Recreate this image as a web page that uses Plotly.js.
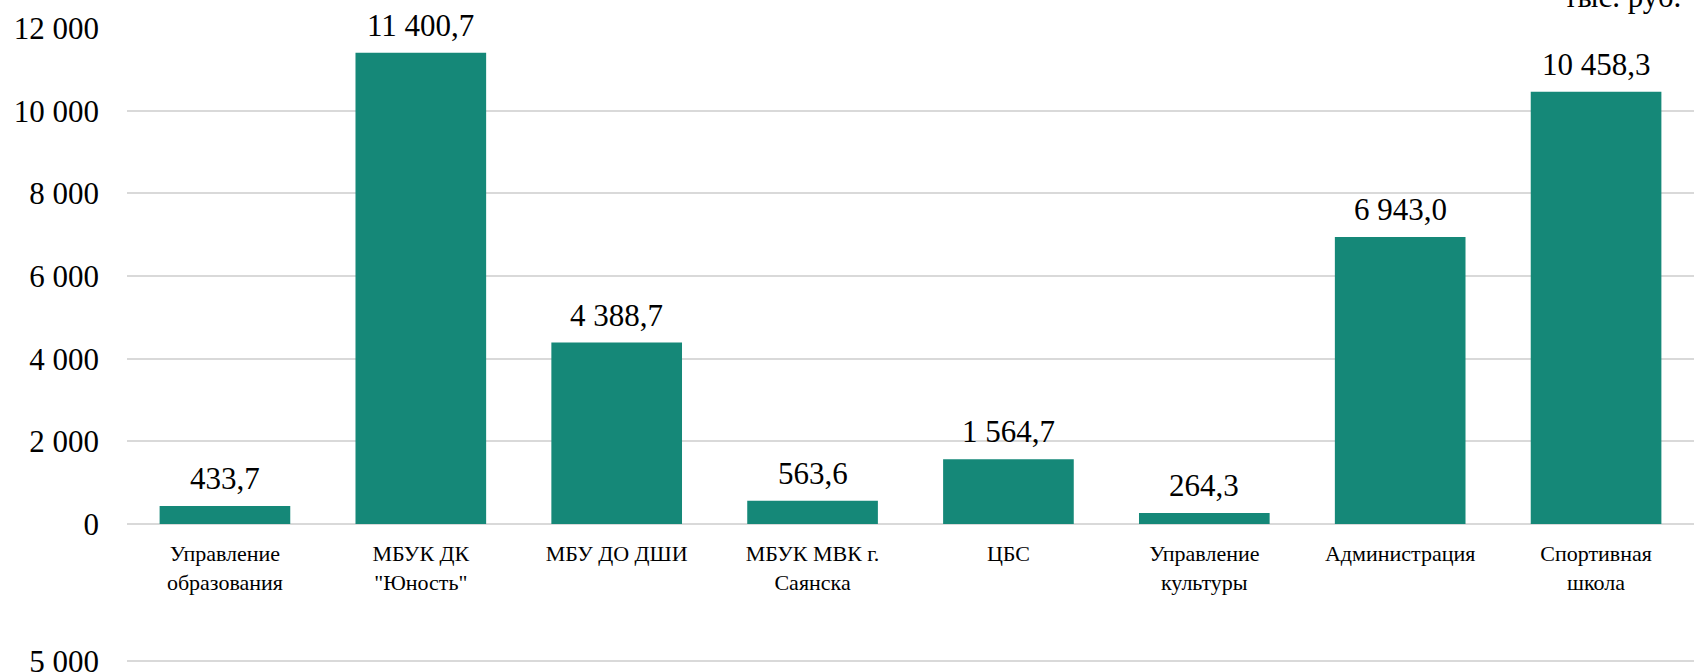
<!DOCTYPE html>
<html>
<head>
<meta charset="utf-8">
<script src="https://cdn.plot.ly/plotly-3.0.1.min.js"></script>
<style>
  html, body { margin: 0; padding: 0; background: #ffffff; }
  #chart { width: 1694px; height: 672px; }
</style>
</head>
<body>
<div id="chart"></div>
<script>
// categories and values (тыс. руб.)
const categories = [
  "Управление<br>образования",
  "МБУК ДК<br>\"Юность\"",
  "МБУ ДО ДШИ",
  "МБУК МВК г.<br>Саянска",
  "ЦБС",
  "Управление<br>культуры",
  "Администрация",
  "Спортивная<br>школа"
];
const values = [433.7, 11400.7, 4388.7, 563.6, 1564.7, 264.3, 6943.0, 10458.3];
const yTicks = [0, 2000, 4000, 6000, 8000, 10000, 12000];
const unitLabel = "тыс. руб.";
// only the top gridline of the next chart shows at the bottom of the picture
const nextChartTicks = [5000];

const SERIF = "'Liberation Serif', serif";
const BAR_COLOR = "#158878";
const GRID = "#d9d9d9";

// 11400.7 -> "11 400,7"
function fmt(v) {
  let parts = v.toFixed(1).split(".");
  let whole = parts[0].replace(/\B(?=(\d{3})+(?!\d))/g, " ");
  return whole + "," + parts[1];
}

let bars = {
  type: "bar",
  x: categories,
  y: values,
  marker: {color: BAR_COLOR},
  hoverinfo: "skip",
  showlegend: false
};

// invisible trace so the second (cut off) chart gets its own axes
let nextChart = {
  type: "scatter",
  mode: "none",
  x: [0.5],
  y: nextChartTicks,
  xaxis: "x2",
  yaxis: "y2",
  hoverinfo: "skip",
  showlegend: false
};

let annotations = [];
for (let i = 0; i < categories.length; i++) {
  annotations.push({
    x: categories[i],
    y: values[i],
    xref: "x",
    yref: "y",
    text: fmt(values[i]),
    showarrow: false,
    yanchor: "bottom",
    yshift: 8,
    font: {family: SERIF, size: 31, color: "#000000"}
  });
}
annotations.push({
  x: 0.9158,
  y: 1.018,
  xref: "paper",
  yref: "paper",
  xanchor: "left",
  yanchor: "bottom",
  text: unitLabel,
  showarrow: false,
  font: {family: SERIF, size: 31, color: "#000000"}
});

const H = 672, T = 28;
const plotH = H - T;
const mainBottom = (H - 524) / plotH;
// second chart: 5000 gridline sits at y = 660.7 px
const nextDomTop = 0.05;
const nextFrac = (H - 660.7) / (plotH * nextDomTop);

let layout = {
  width: 1694,
  height: 672,
  margin: {l: 127, r: 0, t: T, b: 0},
  paper_bgcolor: "#ffffff",
  plot_bgcolor: "#ffffff",
  separators: ", ",
  bargap: 0.333,
  showlegend: false,
  font: {family: SERIF, color: "#000000"},
  xaxis: {
    type: "category",
    domain: [0, 1],
    anchor: "y",
    showgrid: false,
    showline: false,
    zeroline: false,
    ticks: "outside",
    ticklen: 1,
    tickcolor: "rgba(0,0,0,0)",
    ticklabelstandoff: 9,
    tickfont: {family: SERIF, size: 22, color: "#000000"},
    fixedrange: true
  },
  yaxis: {
    domain: [mainBottom, 1],
    anchor: "x",
    range: [0, 12000],
    tickvals: yTicks,
    tickformat: ",d",
    showgrid: true,
    gridcolor: GRID,
    gridwidth: 1.6,
    zeroline: true,
    zerolinecolor: GRID,
    zerolinewidth: 1.6,
    showline: false,
    ticks: "",
    ticklabelstandoff: 27,
    ticklabeloverflow: "allow",
    tickfont: {family: SERIF, size: 31, color: "#000000"},
    fixedrange: true
  },
  xaxis2: {
    domain: [0, 1],
    anchor: "y2",
    showgrid: false,
    showticklabels: false,
    zeroline: false,
    showline: false,
    ticks: "",
    range: [0, 1]
  },
  yaxis2: {
    domain: [0, nextDomTop],
    anchor: "x2",
    range: [0, 5000 / nextFrac],
    tickvals: nextChartTicks,
    tickformat: ",d",
    showgrid: true,
    gridcolor: GRID,
    gridwidth: 1.6,
    zeroline: false,
    showline: false,
    ticks: "",
    ticklabelstandoff: 27,
    ticklabeloverflow: "allow",
    tickfont: {family: SERIF, size: 31, color: "#000000"}
  },
  annotations: annotations
};

Plotly.newPlot("chart", [bars, nextChart], layout, {displayModeBar: false});
</script>
</body>
</html>
